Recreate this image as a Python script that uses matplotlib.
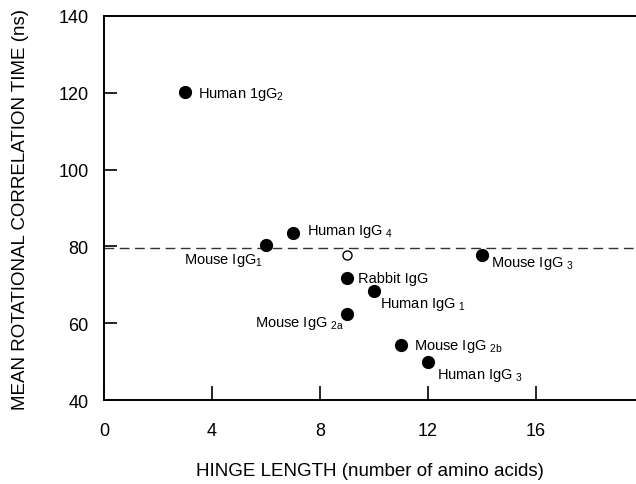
import numpy as np
import matplotlib.pyplot as plt

plt.rcParams['font.family'] = ['Liberation Sans', 'DejaVu Sans']
plt.rcParams['mathtext.fontset'] = 'custom'
plt.rcParams['mathtext.rm'] = 'Liberation Sans'
plt.rcParams['mathtext.it'] = 'Liberation Sans'

# hinge length (amino acids) and mean rotational correlation time (ns)
names = ["Human 1gG$_2$", "Mouse IgG$_1$", "Human IgG $_4$", "Rabbit IgG",
         "Human IgG $_1$", "Mouse IgG $_{2a}$", "Mouse IgG $_3$",
         "Mouse IgG $_{2b}$", "Human IgG $_3$"]
hinge = [3, 6, 7, 9, 10, 9, 14, 11, 12]
tau = [120.3, 80.3, 83.5, 71.8, 68.5, 62.5, 77.9, 54.3, 49.8]

open_x = [9]
open_y = [77.8]
ref_level = 79.6

# label offsets in points
offs = [(9, -1), (-2, -10), (10, 2), (8, 0), (4, -9), (-2, -6), (6.5, -6), (9, 0), (6.5, -9)]
align = ['left', 'right', 'left', 'left', 'left', 'right', 'left', 'left', 'left']

fig = plt.figure(figsize=(6.36, 4.85), dpi=100)
ax = fig.add_axes([0.1635, 0.173, 0.8365, 0.792])

ax.axhline(ref_level, color='#333333', lw=1.0, ls=(0, (7, 4)), zorder=1)
ax.plot(hinge, tau, 'o', color='black', ms=8.5, zorder=3)
ax.plot(open_x, open_y, 'o', mfc='white', mec='black', mew=1.0, ms=6.5, zorder=3)

for i in range(len(names)):
    ax.annotate(names[i], (hinge[i], tau[i]), xytext=offs[i], textcoords='offset points',
                ha=align[i], va='center', fontsize=10.5)

ax.set_xlim(0, 19.7)
ax.set_ylim(40, 140)
ax.set_xticks([0, 4, 8, 12, 16])
ax.set_yticks([40, 60, 80, 100, 120, 140])
ax.spines['right'].set_visible(False)
for s in ['left', 'bottom', 'top']:
    ax.spines[s].set_linewidth(1.4)
ax.tick_params(axis='y', direction='in', length=9, width=1.2, pad=11, labelsize=13)
ax.tick_params(axis='x', direction='in', length=10, width=1.2, pad=16, labelsize=13)

ax.set_xlabel("HINGE LENGTH (number of amino acids)", fontsize=13.5, labelpad=16)
ax.set_ylabel("MEAN ROTATIONAL CORRELATION TIME (ns)", fontsize=13.5, labelpad=21)

fig.savefig("out.png", dpi=100)
